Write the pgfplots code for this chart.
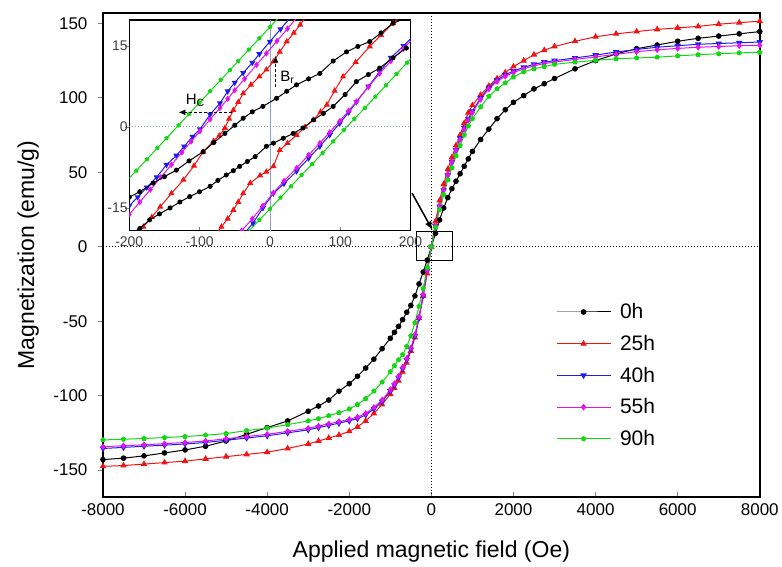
\documentclass[border=0pt]{standalone}
\usepackage{pgfplots}
\pgfplotsset{compat=1.18}
\usepackage{pgfplotstable}
\usepackage{fontspec}
\setmainfont{Liberation Sans}
\usetikzlibrary{arrows.meta}

\definecolor{cred}{RGB}{240,20,20}
\definecolor{cblue}{RGB}{30,30,230}
\definecolor{cmag}{RGB}{225,20,240}
\definecolor{cgreen}{RGB}{20,215,20}
\definecolor{cgrid}{RGB}{140,160,200}

\pgfplotstableread{
H M0 M25 M40 M55 M90
-8000 -143 -147.5 -135.5 -134.3 -129.8
-7500 -142 -147 -134.8 -133.7 -129.3
-7000 -140.5 -146 -134 -133 -128.8
-6500 -138.5 -145 -133.3 -132.3 -128.2
-6000 -136.5 -144 -132.5 -131.5 -127.5
-5500 -134 -142.5 -131.5 -130.5 -126.6
-5000 -130.5 -141 -130 -129 -125.5
-4500 -126 -139.5 -128.5 -127.5 -123.5
-4000 -121.5 -138 -127 -126 -121.8
-3500 -117 -135.5 -125 -124 -119.5
-3000 -110.5 -132.5 -123 -122 -117
-2750 -107 -130.5 -121.5 -120.5 -115.5
-2500 -103 -128.5 -120 -119 -113.5
-2250 -97 -126.5 -118.5 -117.5 -111.5
-2000 -92 -124 -117 -116 -109
-1800 -87 -121 -115.5 -114.5 -106
-1600 -81.5 -117 -113 -112 -102
-1400 -75.5 -112 -109 -108 -97
-1200 -68.5 -106 -104 -103 -91
-1000 -61.5 -99 -97 -96 -84
-900 -57.5 -95 -93 -92 -80
-800 -53.5 -90 -88 -87 -76
-700 -49 -84 -82 -81 -72.5
-600 -44 -78 -76 -75 -67
-500 -39.5 -70 -69 -68 -60
-400 -33 -61 -60 -59 -51
-300 -25 -48 -48 -47 -40
-200 -17 -33 -33 -32 -28
-100 -9 -18 -16 -16 -14
0 0 0 0 0 0
100 9 17 14 14 13
200 18 31 27 27 25
300 26 42 38 38 35
400 33 52 48 48 45
500 39 60 57 57 53
600 44 68 65 65 61
700 49 75 73 72 68
800 54 83 80 79 75
900 59 90 86 85 81
1000 64 95 91 90 86
1200 72 102 100 99 94
1400 79 108 107 106 101
1600 86 113 112 111 106
1800 92 117 115.5 114.5 110
2000 97 121 118 117 114
2250 101.5 125 120.5 119.5 117.5
2500 106 129 122.5 121.5 119.5
2750 109.5 132 124 123 121
3000 113 134.5 125 124 122.5
3500 119.5 138 126.8 125.8 124
4000 125 141 128.7 127.5 125.2
4500 129.5 143 130.8 129.3 126.2
5000 133 144.5 132.5 131 126.8
5500 135.5 146 134 132.3 127.3
6000 138 147 135 133.2 128.2
6500 140 148 136 134 129
7000 141.5 149.5 136.5 134.5 129.6
7500 143 150.5 137 135 130.2
8000 144.5 151.5 137.5 135.3 130.6
}\maindata

\pgfplotstableread{
H M
200 20.5
175 19.2
158 17.4
142 15.8
125 14.9
109 13.9
90 12.2
71 9.9
55 8.9
38 7.8
24 6.6
9.5 5.3
-10 3.8
-25 2.8
-38 1.6
-50 0.3
-64 -1.2
-80 -2.9
-95 -4.6
-115 -6.3
-133 -8.0
-150 -9.2
-166 -10.4
-185 -12.0
-200 -13.0
}\blackA
\pgfplotstableread{
H M
-200 -20.0
-185 -18.8
-171 -17.2
-157 -16.1
-142 -15.0
-128 -13.9
-114 -12.9
-100 -12.0
-85 -11.0
-74 -9.9
-62 -8.9
-52 -8.1
-43 -7.3
-32 -6.4
-21 -5.5
-5 -3.6
5 -3.0
19 -2.1
33 -1.2
47 -0.2
62 1.3
76 2.5
90 3.8
107 6.0
123 8.4
140 9.7
156 10.9
175 12.8
194 14.6
}\blackB
\pgfplotstableread{
H M
60 22.0
43 18.9
34 17.4
24 15.8
14 13.9
5 12.1
-5 10.6
-15 9.3
-27 7.8
-38 6.2
-45 4.6
-52 3.1
-58 1.5
-64 -0.2
-72 -1.6
-80 -2.6
-95 -4.6
-108 -7.2
-123 -9.8
-140 -12.3
-156 -14.8
-168 -16.7
-180 -18.5
-192 -20.3
}\redA
\pgfplotstableread{
H M
-82 -21.0
-69 -18.5
-60 -17.0
-52 -15.4
-45 -13.9
-38 -12.3
-28 -10.4
-14 -9.0
-5 -8.3
5 -7.3
14 -4.3
25 -3.0
38 -1.5
50 0.0
62 1.3
72 2.8
81 4.1
92 6.7
104 9.3
122 12.0
142 14.9
158 17.0
175 19.2
188 20.8
}\redB
\pgfplotstableread{
H M
32 20.7
15 18.1
0 15.8
-15 13.5
-25 11.9
-38 10.0
-50 8.2
-60 6.6
-71 4.4
-85 2.3
-99.5 -0.4
-110 -1.8
-122 -3.6
-133 -5.3
-147 -7.0
-161 -9.3
-175 -11.2
-188 -13.0
-200 -14.6
}\blueA
\pgfplotstableread{
H M
-38 -20.0
-24 -17.8
-10 -15.0
5 -12.3
20 -10.5
38 -8.2
55 -5.8
71 -3.6
85 -1.5
99.5 0.7
112 2.7
123 4.6
140 7.5
156 10.2
172 12.8
190 15.0
205 17.0
}\blueB
\pgfplotstableread{
H M
40 20.5
25 18.2
10 15.9
-5 13.6
-19 11.5
-36 8.9
-50 6.8
-60 5.2
-71 3.5
-85 1.4
-99.5 -0.8
-112 -2.7
-125 -4.7
-140 -7.0
-155 -9.3
-170 -11.6
-185 -13.9
-200 -16.2
}\magA
\pgfplotstableread{
H M
-45 -20.0
-40 -19.2
-25 -17.0
-10 -14.6
5 -12.2
20 -10.0
38 -7.6
55 -5.2
71 -3.0
85 -1.0
99.5 1.1
112 3.0
123 4.7
140 7.4
156 9.9
172 12.2
190 14.5
205 16.6
}\magB
\pgfplotstableread{
H M
15 20.6
0 18.5
-15 16.4
-30 14.3
-45 12.2
-57 10.5
-70 8.7
-85 6.6
-100 4.5
-115 2.4
-130 0.3
-147 -2.1
-160 -3.9
-175 -6.0
-190 -8.1
-205 -10.2
}\greenA
\pgfplotstableread{
H M
-33 -19.7
-15 -17.2
0 -15.2
15 -13.1
30 -11.0
45 -8.9
60 -6.9
75 -4.8
90 -2.7
105 -0.6
120 1.5
135 3.5
150 5.6
165 7.7
180 9.8
195 11.9
210 14.0
}\greenB

\begin{document}
\begin{tikzpicture}
\begin{axis}[
  name=main, at={(0pt,0pt)}, anchor=south west,
  width=657pt, height=484pt, scale only axis,
  xmin=-8000, xmax=8000, ymin=-168, ymax=157,
  xtick={-8000,-6000,-4000,-2000,0,2000,4000,6000,8000},
  ytick={-150,-100,-50,0,50,100,150},
  xtick pos=bottom, ytick pos=left,
  tick align=inside, major tick length=5pt,
  ytick style={xshift=-5pt, line width=0.8pt},
  xtick style={line width=0.8pt},
  axis line style={line width=1.6pt},
  scaled x ticks=false,
  /pgf/number format/assume math mode=true,
  /pgf/number format/set thousands separator={},
  tick label style={font=\fontsize{17}{20}\selectfont},
  xticklabel style={yshift=-3pt},
  yticklabel style={xshift=-12pt},
  xlabel={Applied magnetic field (Oe)},
  ylabel={Magnetization (emu/g)},
  every axis x label/.style={at={(axis description cs:0.5,-0.114)}, anchor=center, font=\fontsize{23}{27}\selectfont},
  every axis y label/.style={at={(axis description cs:-0.114,0.5)}, rotate=90, anchor=center, font=\fontsize{23}{27}\selectfont},
  legend style={at={(axis description cs:0.685,0.408)}, anchor=north west, draw=none, fill=none,
    font=\fontsize{21}{24}\selectfont, row sep=11pt,
    /tikz/every odd column/.append style={column sep=7pt}},
  legend cell align=left,
  legend image code/.code={\draw[mark repeat=2,mark phase=2,#1] plot coordinates {(0pt,0pt) (27pt,0pt) (54pt,0pt)};},
  every axis plot/.append style={line width=1pt, mark size=2.3pt},
]
\draw[dotted, line width=1pt] (axis cs:0,-168) -- (axis cs:0,157);
\draw[dotted, line width=1pt] (axis cs:-8000,0) -- (axis cs:8000,0);
\addplot[color=black, mark=*] table[x=H,y=M0]{\maindata};
\addlegendentry{0h}
\addplot[color=cred, mark=triangle*, mark size=2.8pt] table[x=H,y=M25]{\maindata};
\addlegendentry{25h}
\addplot[color=cblue, mark=triangle*, mark size=2.8pt, mark options={rotate=180}] table[x=H,y=M40]{\maindata};
\addlegendentry{40h}
\addplot[color=cmag, mark=diamond*, mark size=2.6pt] table[x=H,y=M55]{\maindata};
\addlegendentry{55h}
\addplot[color=cgreen, mark=pentagon*, mark size=2.2pt] table[x=H,y=M90]{\maindata};
\addlegendentry{90h}
\draw[line width=1.1pt] (axis cs:-370,-9.5) rectangle (axis cs:510,10.5);
\draw[-{Latex[length=9pt,width=7pt]}, line width=1.5pt] (axis cs:-470,36) -- (axis cs:30,11);
\end{axis}

\begin{axis}[
  at={(26.3pt,266.3pt)}, anchor=south west,
  width=281.4pt, height=210.7pt, scale only axis,
  xmin=-200, xmax=200, ymin=-19.2, ymax=19.8,
  xtick={-200,-100,0,100,200}, ytick={-15,0,15},
  xtick pos=bottom, ytick pos=left,
  tick align=inside, major tick length=4pt,
  ytick style={xshift=-4pt},
  axis line style={line width=1.3pt},
  axis background/.style={fill=white},
  /pgf/number format/assume math mode=true,
  tick label style={font=\fontsize{14}{16}\selectfont, text=black!75},
  yticklabel style={xshift=2pt},
  xticklabel style={yshift=-3pt},
  clip marker paths=true,
  every axis plot/.append style={line width=1pt, mark size=2.2pt},
]
\draw[color=cgrid, line width=0.7pt] (axis cs:0,-19.2) -- (axis cs:0,19.8);
\draw[color=cgrid, dotted, line width=1pt] (axis cs:-200,0) -- (axis cs:200,0);
\addplot[color=cgreen, mark=pentagon*, mark size=1.8pt] table[x=H,y=M]{\greenA};
\addplot[color=cgreen, mark=pentagon*, mark size=1.8pt] table[x=H,y=M]{\greenB};
\addplot[color=cblue, mark=triangle*, mark size=2.6pt, mark options={rotate=180}] table[x=H,y=M]{\blueA};
\addplot[color=cblue, mark=triangle*, mark size=2.6pt, mark options={rotate=180}] table[x=H,y=M]{\blueB};
\addplot[color=cmag, mark=diamond*, mark size=2.4pt] table[x=H,y=M]{\magA};
\addplot[color=cmag, mark=diamond*, mark size=2.4pt] table[x=H,y=M]{\magB};
\addplot[color=cred, mark=triangle*, mark size=2.6pt] table[x=H,y=M]{\redA};
\addplot[color=cred, mark=triangle*, mark size=2.6pt] table[x=H,y=M]{\redB};
\addplot[color=black, mark=*, mark size=2pt] table[x=H,y=M]{\blackA};
\addplot[color=black, mark=*, mark size=2pt] table[x=H,y=M]{\blackB};
\draw[densely dashed, line width=1pt, -{Latex[length=7pt,width=6pt]}] (axis cs:-54,2.7) -- (axis cs:-130,2.7);
\node[font=\fontsize{15}{17}\selectfont] at (axis cs:-106,4.9) {H\textsubscript{C}};
\draw[densely dashed, line width=1pt, -{Latex[length=7pt,width=6pt]}] (axis cs:8,7.4) -- (axis cs:8,13.2);
\node[anchor=west, font=\fontsize{15}{17}\selectfont] at (axis cs:10,9.2) {B\textsubscript{r}};
\end{axis}
\path (-103pt,-67pt) rectangle (679pt,497pt);
\end{tikzpicture}
\end{document}
